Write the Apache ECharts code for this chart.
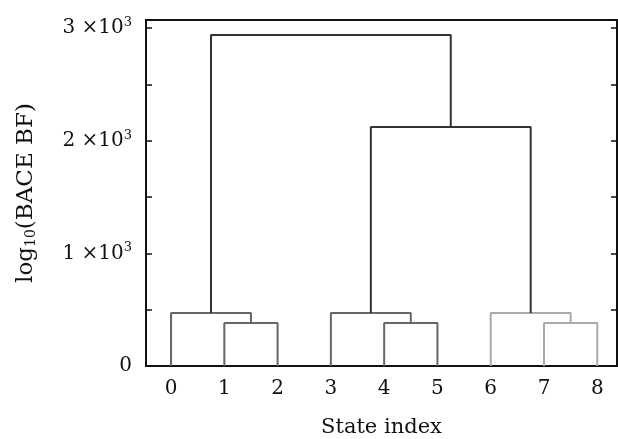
<!DOCTYPE html>
<html>
<head>
<meta charset="utf-8">
<script src="https://cdn.jsdelivr.net/npm/echarts@6/dist/echarts.min.js"></script>
<style>
  html, body { margin: 0; padding: 0; background: #fff; }
  #container { width: 618px; height: 439px; }
</style>
</head>
<body>
<div id="container"></div>
<script>
// leaves of the dendrogram (state index)
const leafLabels = ['0', '1', '2', '3', '4', '5', '6', '7', '8'];
// merges, scipy style: new node id = leaves + k
const mergeA = [1, 4, 7, 0, 3, 6, 13, 12];
const mergeB = [2, 5, 8, 9, 10, 11, 14, 15];
const mergeHeight = [382, 382, 382, 470, 470, 470, 2121, 2937];
const mergeGroup = ['a', 'b', 'c', 'a', 'b', 'c', 'top', 'top'];
const yTickLabels = [0, 1000, 2000, 3000];

const groupColor = { a: '#666', b: '#666', c: '#aaa', top: '#333' };
const font = 'DejaVu Serif';

// node positions
let nodeX = leafLabels.map((l, i) => i);
let nodeY = leafLabels.map(() => 0);
mergeA.forEach((a, k) => {
    let b = mergeB[k];
    nodeX.push((nodeX[a] + nodeX[b]) / 2);
    nodeY.push(mergeHeight[k]);
});

let series = mergeA.map((a, k) => {
    let b = mergeB[k];
    let h = mergeHeight[k];
    return {
        type: 'line',
        showSymbol: false,
        silent: true,
        z: mergeGroup[k] === 'top' ? 3 : 2,
        lineStyle: { color: groupColor[mergeGroup[k]], width: 2 },
        data: [[nodeX[a], nodeY[a]], [nodeX[a], h], [nodeX[b], h], [nodeX[b], nodeY[b]]]
    };
});

let yAxisBase = {
    type: 'value',
    min: 0,
    max: 3071,
    interval: 500,
    splitLine: { show: false },
    axisLine: { show: false, onZero: false },
    axisTick: { show: true, inside: true, length: 6, lineStyle: { color: '#111', width: 1.5 } }
};

let option = {
    animation: false,
    backgroundColor: '#fff',
    grid: {
        left: 146, right: 1, top: 20, bottom: 73,
        outerBoundsMode: 'none',
        containLabel: false,
        show: true, borderColor: '#111', borderWidth: 2, backgroundColor: 'transparent'
    },
    xAxis: {
        type: 'value',
        min: -0.47,
        max: 8.37,
        splitLine: { show: false },
        axisLine: { show: false, onZero: false },
        axisTick: { show: false },
        axisLabel: {
            customValues: leafLabels.map(Number),
            formatter: v => leafLabels[v],
            fontFamily: font, fontSize: 20, color: '#111', margin: 13
        },
        name: 'State index',
        nameLocation: 'middle',
        nameGap: 51,
        nameTextStyle: { fontFamily: font, fontSize: 21, color: '#111' }
    },
    yAxis: [
        Object.assign({}, yAxisBase, {
            position: 'left',
            axisLabel: {
                margin: 14,
                formatter(v) {
                    if (!yTickLabels.includes(v)) return '';
                    if (v === 0) return '{m|0}';
                    return '{m|' + (v / 1000) + ' ×10}{s|3}';
                },
                rich: {
                    m: { fontFamily: font, fontSize: 20, color: '#111' },
                    s: { fontFamily: font, fontSize: 13, color: '#111', padding: [0, 0, 11, 0] }
                }
            },
            name: '{m|log}{sub|10}{m|(BACE BF)}',
            nameLocation: 'middle',
            nameGap: 108,
            nameTextStyle: {
                rich: {
                    m: { fontFamily: font, fontSize: 23, color: '#111' },
                    sub: { fontFamily: font, fontSize: 14, color: '#111', padding: [10, 0, 0, 0] }
                }
            }
        }),
        Object.assign({}, yAxisBase, {
            position: 'right',
            axisLabel: { show: false }
        })
    ],
    series: series
};

let myChart = echarts.init(document.getElementById('container'));
myChart.setOption(option);
</script>
</body>
</html>
